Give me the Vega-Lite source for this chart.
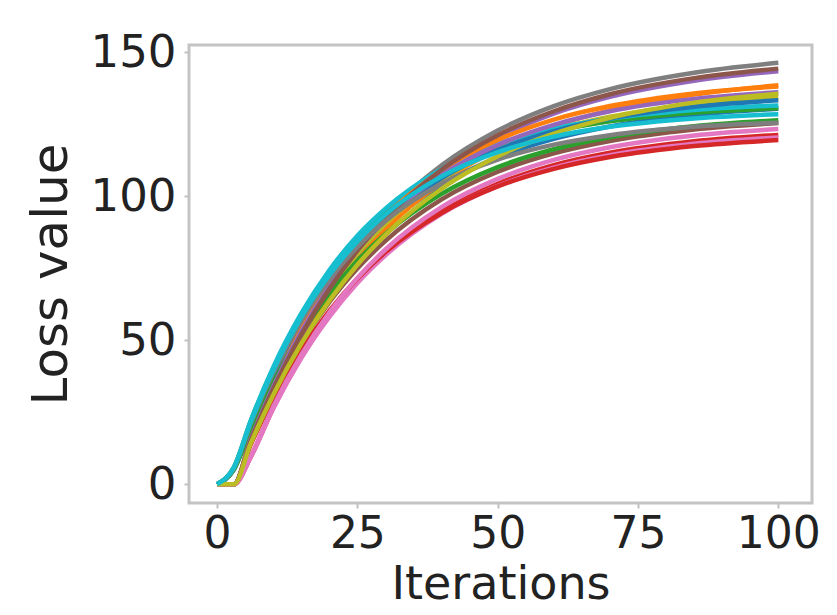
{
  "$schema": "https://vega.github.io/schema/vega-lite/v6.json",
  "width": 623,
  "height": 458,
  "autosize": {"type": "none"},
  "padding": {"left": 189, "top": 45, "right": 25, "bottom": 112},
  "background": "white",
  "config": {
    "view": {"stroke": "#c4c4c4", "strokeWidth": 3},
    "font": "DejaVu Sans"
  },
  "data": {"values": [
{"s":"s01","x":0,"y":0},{"s":"s01","x":3,"y":5.2},{"s":"s01","x":6,"y":19.7},{"s":"s01","x":10,"y":36.4},{"s":"s01","x":15,"y":53.9},{"s":"s01","x":20,"y":68.3},{"s":"s01","x":25,"y":80.0},{"s":"s01","x":30,"y":89.6},{"s":"s01","x":40,"y":103.9},{"s":"s01","x":50,"y":113.5},{"s":"s01","x":60,"y":119.9},{"s":"s01","x":70,"y":124.2},{"s":"s01","x":85,"y":128.2},{"s":"s01","x":100,"y":130.4},
{"s":"s02","x":0,"y":0},{"s":"s02","x":3,"y":0},{"s":"s02","x":6,"y":14.5},{"s":"s02","x":10,"y":31.6},{"s":"s02","x":15,"y":49.8},{"s":"s02","x":20,"y":65.1},{"s":"s02","x":25,"y":77.8},{"s":"s02","x":30,"y":88.5},{"s":"s02","x":40,"y":104.8},{"s":"s02","x":50,"y":116.3},{"s":"s02","x":60,"y":124.3},{"s":"s02","x":70,"y":129.9},{"s":"s02","x":85,"y":135.3},{"s":"s02","x":100,"y":138.5},
{"s":"s03","x":0,"y":0},{"s":"s03","x":3,"y":5.9},{"s":"s03","x":6,"y":21.9},{"s":"s03","x":10,"y":40.2},{"s":"s03","x":15,"y":58.9},{"s":"s03","x":20,"y":73.8},{"s":"s03","x":25,"y":85.6},{"s":"s03","x":30,"y":95.0},{"s":"s03","x":40,"y":108.5},{"s":"s03","x":50,"y":117.1},{"s":"s03","x":60,"y":122.5},{"s":"s03","x":70,"y":126.0},{"s":"s03","x":85,"y":129.0},{"s":"s03","x":100,"y":130.5},
{"s":"s04","x":0,"y":0},{"s":"s04","x":3,"y":0},{"s":"s04","x":6,"y":9.5},{"s":"s04","x":10,"y":26.5},{"s":"s04","x":15,"y":44.1},{"s":"s04","x":20,"y":58.6},{"s":"s04","x":25,"y":70.5},{"s":"s04","x":30,"y":80.2},{"s":"s04","x":40,"y":94.6},{"s":"s04","x":50,"y":104.3},{"s":"s04","x":60,"y":110.8},{"s":"s04","x":70,"y":115.1},{"s":"s04","x":85,"y":119.1},{"s":"s04","x":100,"y":121.3},
{"s":"s05","x":0,"y":0},{"s":"s05","x":3,"y":0},{"s":"s05","x":6,"y":15.0},{"s":"s05","x":10,"y":32.7},{"s":"s05","x":15,"y":51.6},{"s":"s05","x":20,"y":67.4},{"s":"s05","x":25,"y":80.5},{"s":"s05","x":30,"y":91.6},{"s":"s05","x":40,"y":108.5},{"s":"s05","x":50,"y":120.4},{"s":"s05","x":60,"y":128.7},{"s":"s05","x":70,"y":134.5},{"s":"s05","x":85,"y":140.1},{"s":"s05","x":100,"y":143.4},
{"s":"s06","x":0,"y":0},{"s":"s06","x":3,"y":0},{"s":"s06","x":6,"y":14.5},{"s":"s06","x":10,"y":31.3},{"s":"s06","x":15,"y":48.8},{"s":"s06","x":20,"y":63.2},{"s":"s06","x":25,"y":74.9},{"s":"s06","x":30,"y":84.5},{"s":"s06","x":40,"y":98.9},{"s":"s06","x":50,"y":108.5},{"s":"s06","x":60,"y":114.9},{"s":"s06","x":70,"y":119.2},{"s":"s06","x":85,"y":123.2},{"s":"s06","x":100,"y":125.4},
{"s":"s07","x":0,"y":0},{"s":"s07","x":3,"y":0},{"s":"s07","x":6,"y":9.5},{"s":"s07","x":10,"y":26.2},{"s":"s07","x":15,"y":43.8},{"s":"s07","x":20,"y":58.1},{"s":"s07","x":25,"y":69.9},{"s":"s07","x":30,"y":79.5},{"s":"s07","x":40,"y":93.9},{"s":"s07","x":50,"y":103.5},{"s":"s07","x":60,"y":109.9},{"s":"s07","x":70,"y":114.2},{"s":"s07","x":85,"y":118.2},{"s":"s07","x":100,"y":120.4},
{"s":"s08","x":0,"y":0},{"s":"s08","x":3,"y":0},{"s":"s08","x":6,"y":15.3},{"s":"s08","x":10,"y":33.4},{"s":"s08","x":15,"y":52.6},{"s":"s08","x":20,"y":68.7},{"s":"s08","x":25,"y":82.2},{"s":"s08","x":30,"y":93.4},{"s":"s08","x":40,"y":110.7},{"s":"s08","x":50,"y":122.8},{"s":"s08","x":60,"y":131.3},{"s":"s08","x":70,"y":137.2},{"s":"s08","x":85,"y":142.9},{"s":"s08","x":100,"y":146.3},
{"s":"s09","x":0,"y":0},{"s":"s09","x":3,"y":0},{"s":"s09","x":6,"y":15.5},{"s":"s09","x":10,"y":33.5},{"s":"s09","x":15,"y":52.2},{"s":"s09","x":20,"y":67.6},{"s":"s09","x":25,"y":80.2},{"s":"s09","x":30,"y":90.5},{"s":"s09","x":40,"y":105.8},{"s":"s09","x":50,"y":116.1},{"s":"s09","x":60,"y":123.0},{"s":"s09","x":70,"y":127.6},{"s":"s09","x":85,"y":131.8},{"s":"s09","x":100,"y":134.2},
{"s":"s10","x":0,"y":0},{"s":"s10","x":3,"y":5.9},{"s":"s10","x":6,"y":22.1},{"s":"s10","x":10,"y":40.6},{"s":"s10","x":15,"y":59.3},{"s":"s10","x":20,"y":74.3},{"s":"s10","x":25,"y":86.3},{"s":"s10","x":30,"y":95.7},{"s":"s10","x":40,"y":109.4},{"s":"s10","x":50,"y":118.0},{"s":"s10","x":60,"y":123.5},{"s":"s10","x":70,"y":126.9},{"s":"s10","x":85,"y":129.9},{"s":"s10","x":100,"y":131.5},
{"s":"s11","x":0,"y":0},{"s":"s11","x":3,"y":5.3},{"s":"s11","x":6,"y":20.1},{"s":"s11","x":10,"y":37.3},{"s":"s11","x":15,"y":55.1},{"s":"s11","x":20,"y":69.8},{"s":"s11","x":25,"y":81.8},{"s":"s11","x":30,"y":91.6},{"s":"s11","x":40,"y":106.3},{"s":"s11","x":50,"y":116.1},{"s":"s11","x":60,"y":122.6},{"s":"s11","x":70,"y":127.0},{"s":"s11","x":85,"y":131.1},{"s":"s11","x":100,"y":133.3},
{"s":"s12","x":0,"y":0},{"s":"s12","x":3,"y":0},{"s":"s12","x":6,"y":15.9},{"s":"s12","x":10,"y":34.4},{"s":"s12","x":15,"y":53.7},{"s":"s12","x":20,"y":69.6},{"s":"s12","x":25,"y":82.5},{"s":"s12","x":30,"y":93.1},{"s":"s12","x":40,"y":108.9},{"s":"s12","x":50,"y":119.5},{"s":"s12","x":60,"y":126.6},{"s":"s12","x":70,"y":131.3},{"s":"s12","x":85,"y":135.7},{"s":"s12","x":100,"y":138.1},
{"s":"s13","x":0,"y":0},{"s":"s13","x":3,"y":5.1},{"s":"s13","x":6,"y":19.1},{"s":"s13","x":10,"y":35.3},{"s":"s13","x":15,"y":52.3},{"s":"s13","x":20,"y":66.2},{"s":"s13","x":25,"y":77.6},{"s":"s13","x":30,"y":86.9},{"s":"s13","x":40,"y":100.8},{"s":"s13","x":50,"y":110.1},{"s":"s13","x":60,"y":116.3},{"s":"s13","x":70,"y":120.5},{"s":"s13","x":85,"y":124.3},{"s":"s13","x":100,"y":126.4},
{"s":"s14","x":0,"y":0},{"s":"s14","x":3,"y":0},{"s":"s14","x":6,"y":13.8},{"s":"s14","x":10,"y":29.8},{"s":"s14","x":15,"y":46.5},{"s":"s14","x":20,"y":60.2},{"s":"s14","x":25,"y":71.4},{"s":"s14","x":30,"y":80.6},{"s":"s14","x":40,"y":94.2},{"s":"s14","x":50,"y":103.4},{"s":"s14","x":60,"y":109.5},{"s":"s14","x":70,"y":113.6},{"s":"s14","x":85,"y":117.4},{"s":"s14","x":100,"y":119.5},
{"s":"s15","x":0,"y":0},{"s":"s15","x":3,"y":0},{"s":"s15","x":6,"y":15.7},{"s":"s15","x":10,"y":33.9},{"s":"s15","x":15,"y":53.0},{"s":"s15","x":20,"y":68.6},{"s":"s15","x":25,"y":81.3},{"s":"s15","x":30,"y":91.8},{"s":"s15","x":40,"y":107.4},{"s":"s15","x":50,"y":117.8},{"s":"s15","x":60,"y":124.8},{"s":"s15","x":70,"y":129.5},{"s":"s15","x":85,"y":133.8},{"s":"s15","x":100,"y":136.1},
{"s":"s16","x":0,"y":0},{"s":"s16","x":3,"y":0},{"s":"s16","x":6,"y":15.1},{"s":"s16","x":10,"y":33.0},{"s":"s16","x":15,"y":51.9},{"s":"s16","x":20,"y":67.8},{"s":"s16","x":25,"y":81.1},{"s":"s16","x":30,"y":92.2},{"s":"s16","x":40,"y":109.2},{"s":"s16","x":50,"y":121.2},{"s":"s16","x":60,"y":129.5},{"s":"s16","x":70,"y":135.4},{"s":"s16","x":85,"y":141.0},{"s":"s16","x":100,"y":144.3},
{"s":"s17","x":0,"y":0},{"s":"s17","x":3,"y":0},{"s":"s17","x":6,"y":9.7},{"s":"s17","x":10,"y":26.9},{"s":"s17","x":15,"y":44.9},{"s":"s17","x":20,"y":59.6},{"s":"s17","x":25,"y":71.6},{"s":"s17","x":30,"y":81.5},{"s":"s17","x":40,"y":96.2},{"s":"s17","x":50,"y":106.0},{"s":"s17","x":60,"y":112.6},{"s":"s17","x":70,"y":117.0},{"s":"s17","x":85,"y":121.1},{"s":"s17","x":100,"y":123.3},
{"s":"s18","x":0,"y":0},{"s":"s18","x":3,"y":5.6},{"s":"s18","x":6,"y":21.1},{"s":"s18","x":10,"y":38.7},{"s":"s18","x":15,"y":56.7},{"s":"s18","x":20,"y":71.0},{"s":"s18","x":25,"y":82.4},{"s":"s18","x":30,"y":91.4},{"s":"s18","x":40,"y":104.4},{"s":"s18","x":50,"y":112.7},{"s":"s18","x":60,"y":117.9},{"s":"s18","x":70,"y":121.2},{"s":"s18","x":85,"y":124.1},{"s":"s18","x":100,"y":125.5},
{"s":"s19","x":0,"y":0},{"s":"s19","x":3,"y":0},{"s":"s19","x":6,"y":14.2},{"s":"s19","x":10,"y":31.0},{"s":"s19","x":15,"y":48.8},{"s":"s19","x":20,"y":63.7},{"s":"s19","x":25,"y":76.2},{"s":"s19","x":30,"y":86.6},{"s":"s19","x":40,"y":102.6},{"s":"s19","x":50,"y":113.9},{"s":"s19","x":60,"y":121.7},{"s":"s19","x":70,"y":127.2},{"s":"s19","x":85,"y":132.5},{"s":"s19","x":100,"y":135.6},
{"s":"s20","x":0,"y":0},{"s":"s20","x":3,"y":5.8},{"s":"s20","x":6,"y":21.6},{"s":"s20","x":10,"y":39.6},{"s":"s20","x":15,"y":58.0},{"s":"s20","x":20,"y":72.6},{"s":"s20","x":25,"y":84.3},{"s":"s20","x":30,"y":93.6},{"s":"s20","x":40,"y":106.9},{"s":"s20","x":50,"y":115.3},{"s":"s20","x":60,"y":120.7},{"s":"s20","x":70,"y":124.1},{"s":"s20","x":85,"y":127.0},{"s":"s20","x":100,"y":128.5}
  ]},
  "mark": {"type": "line", "interpolate": "monotone", "strokeWidth": 4.5, "clip": true},
  "encoding": {
    "x": {
      "field": "x", "type": "quantitative",
      "scale": {"domain": [-5, 106], "nice": false, "zero": false},
      "axis": {
        "title": "Iterations", "values": [0, 25, 50, 75, 100],
        "grid": false, "domain": false,
        "tickSize": 5, "tickWidth": 2, "tickColor": "#c0c0c0",
        "labelFontSize": 44, "labelColor": "#222222", "labelPadding": 4, "labelFlush": false,
        "titleFontSize": 46, "titleFontWeight": "normal", "titleColor": "#222222", "titlePadding": 6
      }
    },
    "y": {
      "field": "y", "type": "quantitative",
      "scale": {"domain": [-6.5, 152.5], "nice": false, "zero": false},
      "axis": {
        "title": "Loss value", "values": [0, 50, 100, 150],
        "grid": false, "domain": false,
        "tickSize": 5, "tickWidth": 2, "tickColor": "#c0c0c0",
        "labelFontSize": 45, "labelColor": "#222222", "labelPadding": 8, "labelFlush": false,
        "titleFontSize": 50, "titleFontWeight": "normal", "titleColor": "#222222", "titlePadding": 14
      }
    },
    "color": {
      "field": "s", "type": "nominal", "legend": null,
      "scale": {"range": ["#1f77b4","#ff7f0e","#2ca02c","#d62728","#9467bd","#8c564b","#e377c2","#7f7f7f","#bcbd22","#17becf","#1f77b4","#ff7f0e","#2ca02c","#d62728","#9467bd","#8c564b","#e377c2","#7f7f7f","#bcbd22","#17becf"]}
    }
  }
}
